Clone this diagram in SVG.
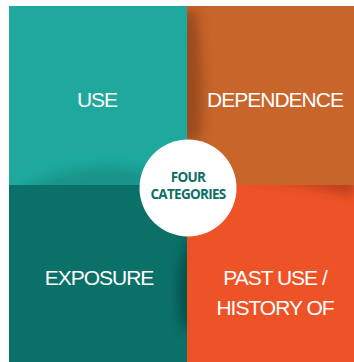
<svg xmlns="http://www.w3.org/2000/svg" width="354" height="362" viewBox="0 0 354 362">
<style>
.lbl{font-family:"Liberation Sans",Arial,sans-serif;font-size:21px;fill:#ffffff;text-anchor:middle;letter-spacing:-1px}
.ctr{font-family:"Open Sans","Liberation Sans",sans-serif;font-size:13.5px;font-weight:bold;fill:#0d6e66;text-anchor:middle;letter-spacing:-0.7px}
</style>
<defs>
<filter id="blur" x="-50%" y="-50%" width="200%" height="200%"><feGaussianBlur stdDeviation="6"/></filter>
<clipPath id="cTR"><rect x="187" y="6" width="167" height="179"/></clipPath>
<clipPath id="cTL"><rect x="9" y="6" width="178" height="179"/></clipPath>
<clipPath id="cBL"><rect x="9" y="185" width="178" height="177"/></clipPath>
<clipPath id="cBR"><rect x="187" y="185" width="167" height="177"/></clipPath>
</defs>
<rect width="354" height="362" fill="#ffffff"/>
<g id="use">
<rect x="9" y="6" width="178" height="179" fill="#1fa99e"/>
<g clip-path="url(#cTL)"><path d="M20 190 Q90 150 180 178 L180 200 L20 200Z" fill="#0c6e66" opacity="0.35" filter="url(#blur)"/></g>
<text class="lbl" x="97" y="107">USE</text>
</g>
<g id="dependence">
<rect x="187" y="6" width="167" height="179" fill="#c8652a"/>
<g clip-path="url(#cTR)"><path d="M180 10 L196 10 Q205 80 200 140 L180 140Z" fill="#7a3818" opacity="0.6" filter="url(#blur)"/></g>
<text class="lbl" x="275" y="107">DEPENDENCE</text>
</g>
<g id="exposure">
<rect x="9" y="185" width="178" height="177" fill="#0b7068"/>
<g clip-path="url(#cBL)"><path d="M194 230 Q170 280 185 330 L194 330Z" fill="#063b36" opacity="0.7" filter="url(#blur)"/></g>
<text class="lbl" x="99" y="285">EXPOSURE</text>
</g>
<g id="past-use">
<rect x="187" y="185" width="167" height="177" fill="#ee5327"/>
<g clip-path="url(#cBR)"><path d="M220 178 Q300 180 354 195 L354 178Z" fill="#8a2a12" opacity="0.6" filter="url(#blur)"/></g>
<text class="lbl" x="275" y="285">PAST USE /</text>
<text class="lbl" x="275" y="315">HISTORY OF</text>
</g>
<g id="center">
<circle cx="188" cy="188" r="48.5" fill="#ffffff"/>
<text class="ctr" x="188" y="181.5">FOUR</text>
<text class="ctr" x="188" y="199">CATEGORIES</text>
</g>
<g id="connectors"/>
</svg>
